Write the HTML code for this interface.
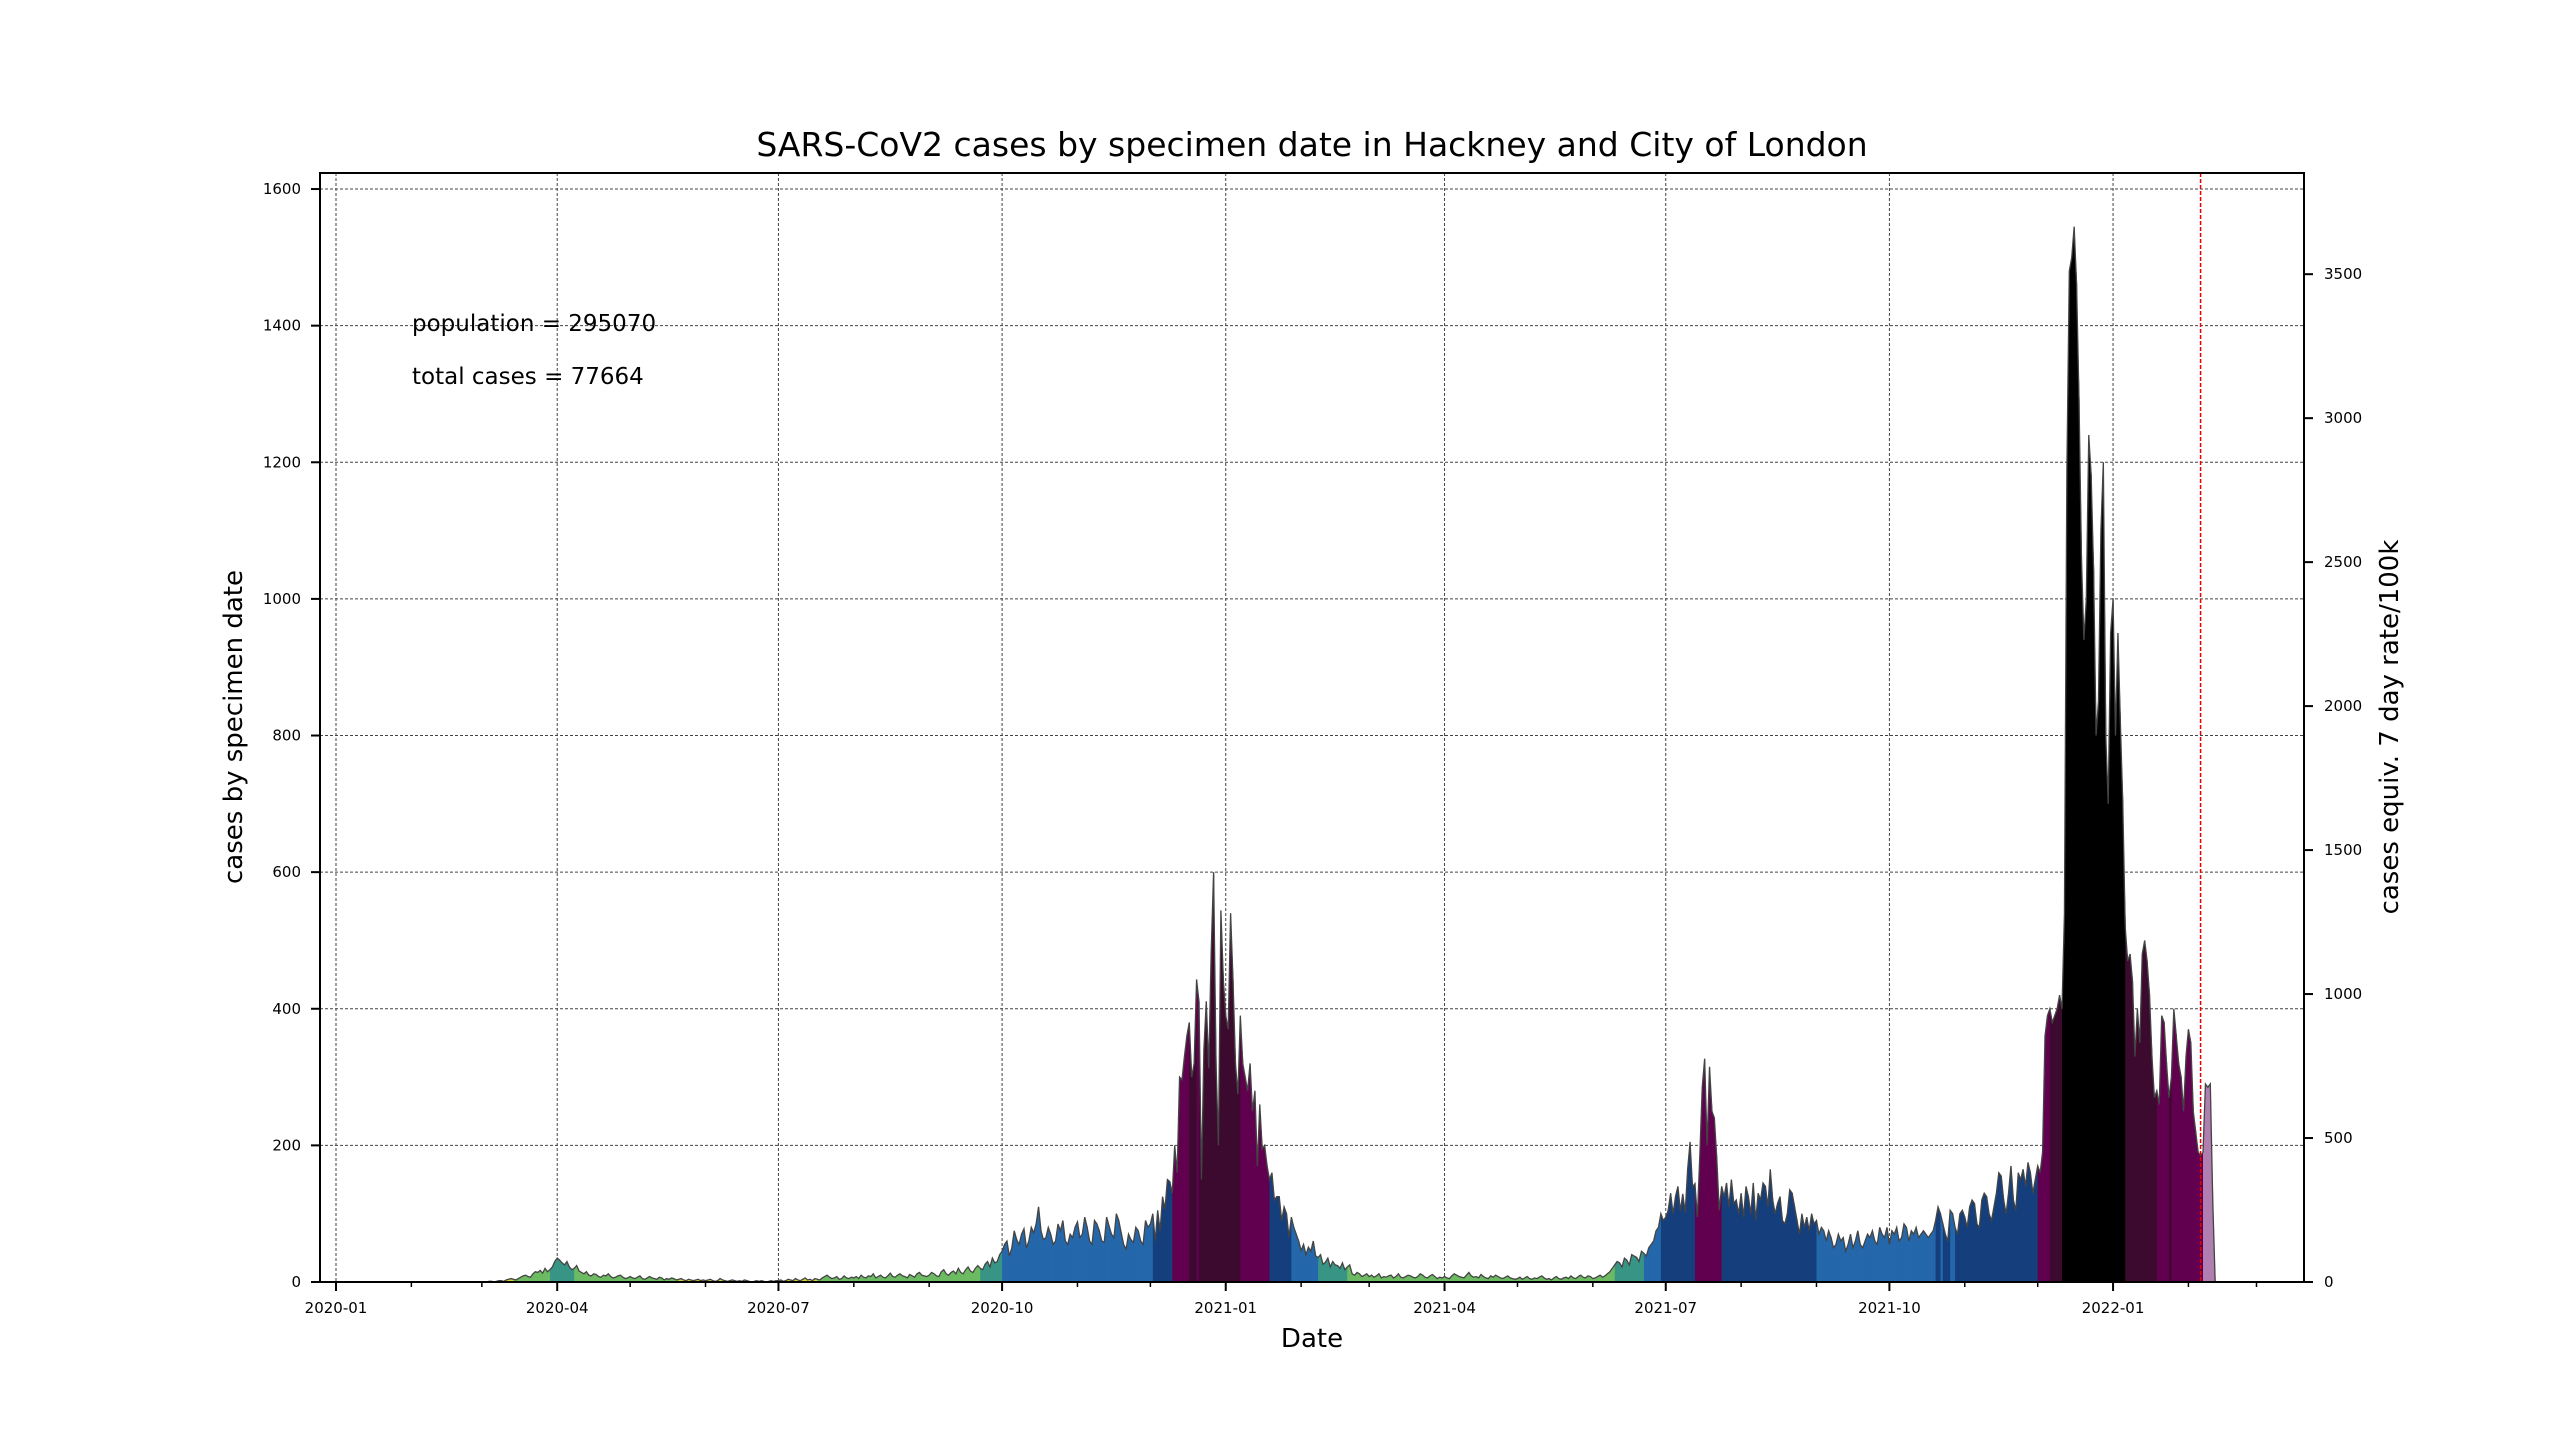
<!DOCTYPE html>
<html><head><meta charset="utf-8"><style>
html,body{margin:0;padding:0;background:#fff;}
svg{display:block;font-family:"DejaVu Sans","Liberation Sans",sans-serif;}
</style></head>
<body>
<svg id="chart" width="2560" height="1440" viewBox="0 0 2560 1440" xmlns="http://www.w3.org/2000/svg">
<rect x="0" y="0" width="2560" height="1440" fill="#fff"/>
<g id="grid"></g>
<g id="marks"></g>
<g id="axes"></g>
<text x="1312" y="156" font-size="33" text-anchor="middle">SARS-CoV2 cases by specimen date in Hackney and City of London</text>
<text x="1312" y="1347" font-size="26" text-anchor="middle">Date</text>
<text transform="translate(242,727) rotate(-90)" font-size="26" text-anchor="middle">cases by specimen date</text>
<text transform="translate(2398,727) rotate(-90)" font-size="26" text-anchor="middle">cases equiv. 7 day rate/100k</text>
<text x="412" y="331" font-size="23">population = 295070</text>
<text x="412" y="384" font-size="23">total cases = 77664</text>
</svg>
<script>
const population = 295070;
const months = ['2020-03','2020-04','2020-05','2020-06','2020-07','2020-08','2020-09','2020-10','2020-11','2020-12',
 '2021-01','2021-02','2021-03','2021-04','2021-05','2021-06','2021-07','2021-08','2021-09','2021-10','2021-11','2021-12',
 '2022-01','2022-02'];
const m2020_03 = [0,0,0,1,1,0,1,2,2,1,3,4,5,4,3,5,7,9,10,8,7,12,15,14,17,13,20,15,18,22,30];
const m2020_04 = [35,32,28,25,30,22,18,20,24,16,14,12,15,10,9,12,11,8,7,10,9,12,8,6,7,9,10,7,5,6];
const m2020_05 = [8,6,5,7,9,5,4,6,8,6,5,4,7,6,3,5,4,6,5,3,4,5,3,2,4,3,2,3,4,2,3];
const m2020_06 = [2,3,4,2,1,2,5,3,2,1,2,3,2,1,2,1,3,2,1,0,1,2,1,2,1,0,1,2,1,2];
const m2020_07 = [2,3,1,2,4,3,2,5,3,2,4,6,3,4,2,5,4,3,6,8,10,7,5,6,8,4,5,9,6,5,7];
const m2020_08 = [6,8,5,10,7,6,9,8,12,6,8,10,7,6,9,13,8,7,10,12,9,8,6,11,9,7,12,14,10,9,8];
const m2020_09 = [10,14,12,9,8,15,18,12,10,14,16,12,20,14,12,18,22,16,14,20,24,20,18,26,30,22,35,28,30,40];
const m2020_10 = [45,55,60,38,50,75,62,55,70,78,50,60,80,72,85,110,75,62,65,80,70,55,60,85,75,90,60,55,70,65,80];
const m2020_11 = [88,65,70,95,80,60,55,90,85,75,60,58,95,82,70,65,100,90,72,55,48,70,62,58,80,75,60,55,90,80];
const m2020_12 = [85,100,60,105,75,125,107,150,147,130,200,160,300,296,330,360,380,300,320,443,410,150,340,411,313,482,600,320,200,544,443];
const m2021_01 = [390,370,540,440,320,275,390,320,300,280,320,250,280,170,260,195,200,170,150,160,120,125,125,90,110,100,66,95,80,70,60];
const m2021_02 = [46,55,40,51,45,60,38,36,40,26,29,35,22,30,25,24,20,28,18,22,25,12,10,14,12,8,10,12];
const m2021_03 = [8,10,7,9,12,6,8,7,9,10,6,8,12,7,6,8,10,9,7,6,8,12,10,7,6,9,11,8,5,7,6];
const m2021_04 = [8,6,5,9,12,10,8,7,6,10,14,9,7,8,6,11,8,6,5,9,7,10,8,6,5,7,9,6,5,4];
const m2021_05 = [5,7,4,6,8,5,4,6,5,7,9,6,4,5,3,6,8,5,4,6,7,5,9,6,5,8,10,7,6,9,8];
const m2021_06 = [5,6,8,10,7,9,12,15,20,25,30,28,22,35,32,25,40,38,36,30,45,42,38,50,55,60,75,80,100,90];
const m2021_07 = [95,105,130,100,125,140,104,129,102,165,205,139,144,95,185,285,327,200,315,250,240,180,105,140,125,145,110,150,115,120,100];
const m2021_08 = [130,95,140,125,100,145,90,130,120,145,140,110,165,120,100,115,125,90,85,100,135,130,110,90,70,100,80,95,75,100,85];
const m2021_09 = [90,70,80,75,60,75,65,50,55,70,60,65,45,55,70,50,60,75,55,50,60,70,65,75,60,55,80,70,65,80];
const m2021_10 = [55,75,70,80,60,65,85,80,60,75,70,80,65,70,75,70,65,70,75,90,110,100,85,70,60,105,100,80,70,100,105];
const m2021_11 = [95,80,110,120,115,85,80,120,130,125,100,90,110,130,160,155,120,100,130,170,120,105,160,150,165,140,175,160,130,150];
const m2021_12 = [170,160,190,360,390,400,380,390,400,420,400,540,1190,1480,1500,1545,1460,1290,1060,940,1000,1240,1180,1040,800,850,1100,1200,800,700,950];
const m2022_01 = [1000,800,950,820,700,520,470,480,440,330,400,350,480,500,470,420,330,270,280,260,390,380,320,270,300,400,360,320,300,250,330];
const m2022_02 = [370,350,250,220,190,185,190,290,285,290,120];
const monthValues = [m2020_03,m2020_04,m2020_05,m2020_06,m2020_07,m2020_08,m2020_09,m2020_10,m2020_11,m2020_12,
 m2021_01,m2021_02,m2021_03,m2021_04,m2021_05,m2021_06,m2021_07,m2021_08,m2021_09,m2021_10,m2021_11,m2021_12,m2022_01,m2022_02];
const incompleteDays = 5;
const leftTicks = [0,200,400,600,800,1000,1200,1400,1600];
const rightTicks = [0,500,1000,1500,2000,2500,3000,3500];
const xMajorTicks = ['2020-01','2020-04','2020-07','2020-10','2021-01','2021-04','2021-07','2021-10','2022-01'];
const xMinorTicks = ['2020-02','2020-03','2020-05','2020-06','2020-08','2020-09','2020-11','2020-12','2021-02','2021-03','2021-05','2021-06','2021-08','2021-09','2021-11','2021-12','2022-02','2022-03'];
const cutoffDate = '2022-02-06';

const NS = 'http://www.w3.org/2000/svg';
const L = 320, R = 2304, T = 173, B = 1282;
const X0 = 336, PXDAY = 2.431, PXCASE = 0.6831;
const RATE = 7 * 100000 / population;
function dayIndex(s){ const p = s.split('-').map(Number); return Math.round((Date.UTC(p[0],p[1]-1,p[2]||1) - Date.UTC(2020,0,1))/86400000); }
function xs(d){ return X0 + d*PXDAY; }
function ys(v){ return B - v*PXCASE; }
function yr(r){ return ys(r/RATE); }
function el(tag, attrs, parent){ const e = document.createElementNS(NS, tag); for (const k in attrs) e.setAttribute(k, attrs[k]); parent.appendChild(e); return e; }

const grid = document.getElementById('grid'), marks = document.getElementById('marks'), axes = document.getElementById('axes');

leftTicks.forEach(v => {
  const g = el('line', {x1:L, x2:R, y1:ys(v), y2:ys(v), stroke:'#444', 'stroke-width':1, 'stroke-dasharray':'3,2'}, grid);
  
  
});
xMajorTicks.forEach(s => {
  const x = xs(dayIndex(s));
  const g = el('line', {x1:x, x2:x, y1:T, y2:B, stroke:'#444', 'stroke-width':1, 'stroke-dasharray':'3,2'}, grid);
  
  
});

const pts = [];
months.forEach((m, i) => { const d0 = dayIndex(m + '-01'); monthValues[i].forEach((v, j) => pts.push([d0 + j, v])); });
function colorFor(i){
  if (i >= pts.length - incompleteDays) return '#b07fb0';
  let s = 0, n = 0;
  for (let k = i-3; k <= i+3; k++) { if (k >= 0 && k < pts.length - incompleteDays) { s += pts[k][1]; n++; } }
  const r = (s/n) * RATE;
  if (r < 10) return '#d4d130';
  if (r < 50) return '#6cbb62';
  if (r < 100) return '#389484';
  if (r < 200) return '#2467aa';
  if (r < 400) return '#143f7c';
  if (r < 800) return '#620050';
  if (r < 1600) return '#3c0a2e';
  return '#000000';
}
for (let i = 0; i < pts.length; i++) {
  const d = pts[i][0], v = pts[i][1];
  const nv = i+1 < pts.length ? pts[i+1][1] : 0;
  const x1 = xs(d), x2 = xs(d+1) + 0.6;
  const p = el('polygon', {points: `${x1},${B} ${x1},${ys(v)} ${x2},${ys(nv)} ${x2},${B}`, fill: colorFor(i)}, marks);
  
  
}
let dstr = `M${xs(pts[0][0])},${ys(pts[0][1])}`;
for (let i = 1; i < pts.length; i++) dstr += ` L${xs(pts[i][0])},${ys(pts[i][1])}`;
dstr += ` L${xs(pts[pts.length-1][0]+1)},${B}`;
const edge = el('path', {d: dstr, fill:'none', stroke:'#444', 'stroke-width':1.3}, marks);



const cx = xs(dayIndex(cutoffDate));
const cut = el('line', {x1:cx, x2:cx, y1:T, y2:B, stroke:'#e00', 'stroke-width':1.5, 'stroke-dasharray':'4,2'}, marks);



const frame = el('rect', {x:L, y:T, width:R-L, height:B-T, fill:'none', stroke:'#000', 'stroke-width':2}, axes);



leftTicks.forEach(v => {
  const y = ys(v);
  const t = el('line', {x1:L-9, x2:L, y1:y, y2:y, stroke:'#000', 'stroke-width':2}, axes);
  
  
  const tx = el('text', {x:L-19, y:y+5, 'font-size':15, 'text-anchor':'end'}, axes);
  tx.textContent = v;
  
  
});
rightTicks.forEach(r => {
  const y = yr(r);
  const t = el('line', {x1:R, x2:R+9, y1:y, y2:y, stroke:'#000', 'stroke-width':2}, axes);
  
  
  const tx = el('text', {x:R+20, y:y+5, 'font-size':15}, axes);
  tx.textContent = r;
  
  
});
xMajorTicks.forEach(s => {
  const x = xs(dayIndex(s));
  const t = el('line', {x1:x, x2:x, y1:B, y2:B+9, stroke:'#000', 'stroke-width':2}, axes);
  
  
  const tx = el('text', {x:x, y:B+31, 'font-size':15, 'text-anchor':'middle'}, axes);
  tx.textContent = s;
  
  
});
xMinorTicks.forEach(s => {
  const x = xs(dayIndex(s));
  const t = el('line', {x1:x, x2:x, y1:B, y2:B+5, stroke:'#000', 'stroke-width':1.5}, axes);
  
  
});
</script>
</body></html>
